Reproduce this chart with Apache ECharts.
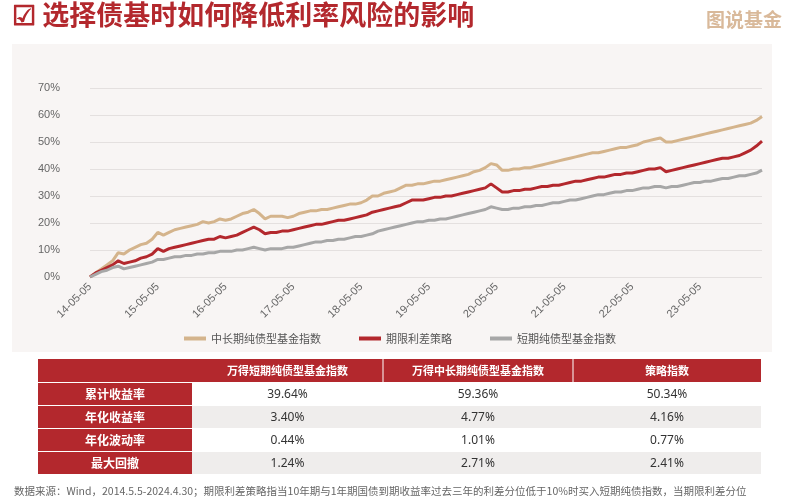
<!DOCTYPE html>
<html><head><meta charset="utf-8">
<script src="https://cdn.jsdelivr.net/npm/echarts@6/dist/echarts.min.js"></script>
<style>html,body{margin:0;padding:0;background:#fff}#c{width:800px;height:500px}</style>
</head><body><div id="c"></div>
<script>
const seriesNames = ['中长期纯债型基金指数','期限利差策略','短期纯债型基金指数'];
const longBond = [0,1.5,3,4.5,6,9,8.5,10,11,12,12.5,14,
16.5,15.5,16.5,17.5,18,18.5,19,19.5,20.5,20,20.5,21.5,
21,21.5,22.5,23.5,24,25,23.5,21.5,22.5,22.5,22.5,22,
22.5,23.5,24,24.5,24.5,25,25,25.5,26,26.5,27,27,
27.5,28.5,30,30,31,31.5,32,33,34,34,34.5,34.5,
35,35.5,35.5,36,36.5,37,37.5,38,39,39.5,40.5,42,
41.5,39.5,39.5,40,40,40.5,40.5,41,41.5,42,42.5,43,
43.5,44,44.5,45,45.5,46,46,46.5,47,47.5,48,48,
48.5,49,50,50.5,51,51.5,50,50,50.5,51,51.5,52,
52.5,53,53.5,54,54.5,55,55.5,56,56.5,57,58,59.4];
const strategy = [0,1.5,2.5,3.5,4.5,6,5,5.5,6,7,7.5,8.5,
10.5,9.5,10.5,11,11.5,12,12.5,13,13.5,14,14,15,
14.5,15,15.5,16.5,17.5,18.5,17.5,16,16.5,16.5,17,17,
17.5,18,18.5,19,19.5,19.5,20,20.5,21,21,21.5,22,
22.5,23,24,24.5,25,25.5,26,26.5,27.5,28.5,28.5,28.5,
29,29.5,29.5,30,30,30.5,31,31.5,32,32.5,33,34.5,
33,31.5,31.5,32,32,32.5,32.5,33,33.5,33.5,34,34,
34.5,35,35.5,35.5,36,36.5,37,37,37.5,38,38,38.5,
38.5,39,39.5,40,40,40.5,39,39.5,40,40.5,41,41.5,
42,42.5,43,43.5,44,44,44.5,45,46,47,48.5,50.3];
const shortBond = [0,1,2,2.5,3.5,4,3,3.5,4,4.5,5,5.5,
6.5,6.5,7,7.5,7.5,8,8,8.5,8.5,9,9,9.5,
9.5,9.5,10,10,10.5,11,10.5,10,10.5,10.5,10.5,11,
11,11.5,12,12.5,13,13,13.5,13.5,14,14,14.5,15,
15,15.5,16,17,17.5,18,18.5,19,19.5,20,20.5,20.5,
21,21,21.5,21.5,22,22.5,23,23.5,24,24.5,25,26,
25.5,25,25,25.5,25.5,26,26,26.5,26.5,27,27.5,27.5,
28,28.5,28.5,29,29.5,30,30.5,30.5,31,31.5,31.5,32,
32,32.5,33,33,33.5,33.5,33,33.5,33.5,34,34.5,35,
35,35.5,35.5,36,36.5,36.5,37,37.5,37.5,38,38.5,39.6];
const categories = [];
for (let y = 14; y <= 23; y++) for (let m = 5; m < 17; m++) {
  const yy = m > 12 ? y + 1 : y, mm = m > 12 ? m - 12 : m;
  categories.push(yy + '-' + String(mm).padStart(2,'0') + '-05');
}
const tableHeader = ['', '万得短期纯债型基金指数', '万得中长期纯债型基金指数', '策略指数'];
const rowLabels = ['累计收益率','年化收益率','年化波动率','最大回撤'];
const colShort = ['39.64%','3.40%','0.44%','1.24%'];
const colLong = ['59.36%','4.77%','1.01%','2.71%'];
const colStrat = ['50.34%','4.16%','0.77%','2.41%'];
const footnote = '数据来源：Wind，2014.5.5-2024.4.30；期限利差策略指当10年期与1年期国债到期收益率过去三年的利差分位低于10%时买入短期纯债指数，当期限利差分位';

const red = '#b3282d';
const colX = [38,192,383,573,761];
const headTop = 359, headH = 23, rowH = 23;
const g = [];
g.push({type:'rect', z:-10, shape:{x:12,y:44,width:760,height:308}, style:{fill:'#f8f5f4'}});
g.push({type:'text', left:12, top:1, style:{text:'☑ 选择债基时如何降低利率风险的影响', fill:red, font:'bold 27px "Noto Sans CJK SC"'}});
g.push({type:'text', right:18, top:10, style:{text:'图说基金', fill:'#d9b99a', font:'bold 19px "Noto Sans CJK SC"'}});
g.push({type:'rect', shape:{x:colX[0],y:headTop,width:colX[4]-colX[0],height:headH}, style:{fill:red}});
for (let i=1;i<4;i++){
  g.push({type:'text', x:(colX[i]+colX[i+1])/2, y:headTop+headH/2, style:{text:tableHeader[i], fill:'#fff', font:'bold 11px "Noto Sans CJK SC"', align:'center', verticalAlign:'middle'}});
  if (i>1) g.push({type:'rect', shape:{x:colX[i]-0.5,y:headTop,width:1,height:headH}, style:{fill:'#fff'}});
}
const cols = [colShort, colLong, colStrat];
rowLabels.forEach((lab, r) => {
  const y = headTop + headH + r*rowH + 1;
  g.push({type:'rect', shape:{x:colX[0],y:y,width:colX[1]-colX[0],height:rowH-1}, style:{fill:red}});
  g.push({type:'rect', shape:{x:colX[1],y:y,width:colX[4]-colX[1],height:rowH-1}, style:{fill: r%2 ? '#efedec' : '#ffffff'}});
  g.push({type:'text', x:(colX[0]+colX[1])/2, y:y+rowH/2, style:{text:lab, fill:'#fff', font:'bold 12px "Noto Sans CJK SC"', align:'center', verticalAlign:'middle'}});
  cols.forEach((c, j) => g.push({type:'text', x:(colX[j+1]+colX[j+2])/2, y:y+rowH/2, style:{text:c[r], fill:'#333', font:'12px "Noto Sans"', align:'center', verticalAlign:'middle'}}));
});
g.push({type:'text', left:14, top:486, style:{text:footnote, fill:'#666', font:'10.5px "Noto Sans CJK SC"'}});

const chart = echarts.init(document.getElementById('c'));
chart.setOption({
  backgroundColor:'#fff',
  animation:false,
  graphic:g,
  color:['#d4b48c', red, '#a7a7a7'],
  grid:{left:90,right:38,top:88,bottom:223},
  legend:{top:328, left:'center', itemWidth:22, itemHeight:4, itemGap:38, icon:'rect',
    textStyle:{color:'#555', fontSize:11, fontFamily:'Noto Sans CJK SC'}, data:seriesNames},
  xAxis:{type:'category', data:categories, boundaryGap:false,
    axisLine:{show:false}, axisTick:{show:false},
    axisLabel:{rotate:45, color:'#666', fontSize:11, interval:(i,v)=>v.endsWith('-05-05')}},
  yAxis:{type:'value', min:0, max:70, interval:10,
    axisLabel:{formatter:'{value}%', color:'#666', fontSize:11, margin:30},
    splitLine:{lineStyle:{color:'#e4e0df'}}},
  series:[
    {name:seriesNames[0], type:'line', data:longBond, symbol:'none', lineStyle:{width:3}},
    {name:seriesNames[1], type:'line', data:strategy, symbol:'none', lineStyle:{width:3}},
    {name:seriesNames[2], type:'line', data:shortBond, symbol:'none', lineStyle:{width:3}}
  ]
});
</script></body></html>
